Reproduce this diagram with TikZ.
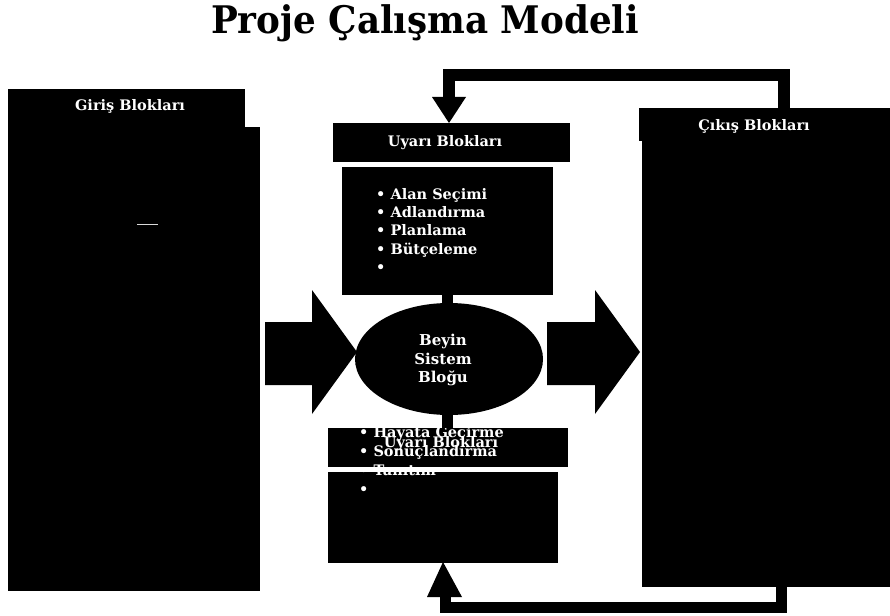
\documentclass[tikz,border=0pt]{standalone}
\usepackage{fontspec}
\usetikzlibrary{shapes.geometric}
\setmainfont{DejaVu Serif}
\newfontfamily\titlefont[FakeStretch=0.94]{DejaVu Serif}
\newfontfamily\lblfont{DejaVu Serif}
\begin{document}
\begin{tikzpicture}[x=1pt,y=-1pt,
  blk/.style={fill=black,draw=none,inner sep=0pt,outer sep=0pt},
  lbl/.style={text=white,inner sep=0pt,font=\lblfont\bfseries\fontsize{14.5}{17}\selectfont},
  lst/.style={text=white,inner sep=0pt,align=left,font=\lblfont\bfseries\fontsize{14.5}{18.3}\selectfont},
  fb/.style={draw=black,line width=12pt,line join=miter},
  fat/.style={fill=black,draw=none}]
\useasboundingbox (0,0) rectangle (890,615);

% title
\node[anchor=base,inner sep=0pt] (title) at (425,34)
  {\titlefont\bfseries\fontsize{38}{44}\selectfont Proje Çalışma Modeli};

% Giris block
\node[blk,minimum width=237pt,minimum height=39pt] (girishead) at (126.5,108.5) {};
\node[blk,minimum width=252pt,minimum height=464pt] (giris) at (134,359) {};
\node[lbl] (girislbl) at (130,106) {Giriş Blokları};
\draw[white!85!black,line width=0.8pt] (137,224) -- (158,224);

% Cikis block
\node[blk,minimum width=251pt,minimum height=33pt] (cikishead) at (764.5,124.5) {};
\node[blk,minimum width=248pt,minimum height=447pt] (cikis) at (766,363.5) {};
\node[lbl] (cikislbl) at (754,126) {Çıkış Blokları};

% upper warning block
\node[blk,minimum width=237pt,minimum height=39pt] (uyari1) at (451.5,142.5) {};
\node[lbl] (uyari1lbl) at (445,143) {Uyarı Blokları};
\node[blk,minimum width=211pt,minimum height=128pt] (liste1) at (447.5,231) {};
\node[lst,anchor=north west] (liste1txt) at (376,188)
  {• Alan Seçimi\\• Adlandırma\\• Planlama\\• Bütçeleme\\•};

% brain ellipse
\node[blk,ellipse,minimum width=188pt,minimum height=112pt] (beyin) at (449,359) {};
\node[lst,align=center,font=\lblfont\bfseries\fontsize{15}{18.5}\selectfont] (beyintxt) at (443,360) {Beyin\\Sistem\\Bloğu};

% lower warning block
\node[blk,minimum width=240pt,minimum height=39pt] (uyari2) at (448,447.5) {};
\node[blk,minimum width=230pt,minimum height=91pt] (liste2) at (443,517.5) {};
\node[lbl] (uyari2lbl) at (441,444) {Uyarı Blokları};
\node[lst,anchor=north west,font=\lblfont\bfseries\fontsize{14.5}{19}\selectfont] (liste2txt) at (359,426)
  {• Hayata Geçirme\\• Sonuçlandırma\\• Tanıtım\\•};

% stems between the centre blocks
\draw[draw=black,line width=11pt] (liste1.south) -- (liste1.south |- beyin.north);
\draw[draw=black,line width=11pt] (liste1.south |- beyin.south) -- (liste1.south |- uyari2.north);

% fat arrows
\fill[fat] (265,322) -- (312,322) -- (312,290) -- (357,352) -- (312,414) -- (312,385) -- (265,385) -- cycle;
\fill[fat] (547,322) -- (595,322) -- (595,290) -- (640,352) -- (595,414) -- (595,385) -- (547,385) -- cycle;

% top feedback loop
\coordinate (tr) at (784,75);
\coordinate (tl) at (449,75);
\draw[fb] (cikishead.north -| tr) -- (tr) -- (tl) -- ++(0,23);
\fill[fat] (432,97) -- (466,97) -- (uyari1.north -| tl) -- cycle;

% bottom feedback loop
\coordinate (br) at (781,607);
\coordinate (bl) at (445.5,607);
\draw[fb,line width=11pt] (cikis.south -| br) -- (br) -- (bl) -- ++(0,-11);
\fill[fat] (427,597) -- (462,597) -- (443,562) -- cycle;
\end{tikzpicture}
\end{document}
